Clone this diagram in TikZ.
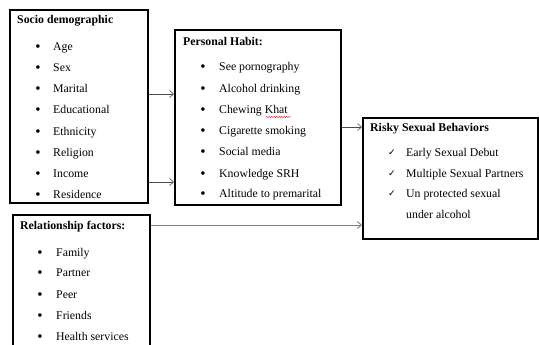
\documentclass[tikz,border=0pt]{standalone}
\usepackage{fontspec}
\setmainfont{Liberation Serif}
\newfontfamily\symfont{DejaVu Sans}
\usetikzlibrary{arrows.meta,decorations.pathmorphing}
\tikzset{
  box/.style={draw=black, line width=1.6pt, rectangle, inner sep=0pt, anchor=north west},
  lbl/.style={anchor=west, inner sep=0pt, font=\fontsize{11.8}{13}\selectfont, text height=8pt, text depth=2.5pt, yshift=-1pt},
  ttl/.style={lbl, font=\fontsize{11.8}{13}\selectfont\bfseries},
  bul/.style={anchor=center, inner sep=0pt, font=\fontsize{15}{16}\selectfont, yshift=-1pt},
  chk/.style={anchor=center, inner sep=0pt, font=\symfont\fontsize{9}{10}\selectfont},
  arr/.style={draw=black!70, line width=0.6pt, -{Straight Barb[length=4pt,width=7pt]}},
  garr/.style={draw=black!50, line width=0.9pt, -{Straight Barb[length=4pt,width=7pt]}}
}
\begin{document}
\begin{tikzpicture}[x=1pt,y=-1pt]
\useasboundingbox (0,0) rectangle (539,345);
\clip (0,0) rectangle (539,345);
% boxes
\node[box, minimum width=138pt, minimum height=193pt] (b1) at (9,9) {};
\node[box, minimum width=166pt, minimum height=175pt] (b2) at (174,29) {};
\node[box, minimum width=175pt, minimum height=121pt] (b3) at (362,117) {};
\node[box, minimum width=137pt, minimum height=150pt] (b4) at (12,214) {};
% box 1
\node[ttl] (t1) at (17,20) {Socio demographic};
\foreach \i/\t/\y in {1/Age/47,2/Sex/68,3/Marital/89,4/Educational/110,5/Ethnicity/132,6/Religion/153,7/Income/174,8/Residence/195}{
  \node[bul] (b1d\i) at (38,\y) {•};
  \node[lbl] (b1t\i) at (53,\y) {\t};
}
% box 2
\node[ttl] (t2) at (183,42) {Personal Habit:};
\foreach \i/\t/\y in {1/See pornography/67,2/Alcohol drinking/89,3/Chewing Khat/110,4/Cigarette smoking/131,5/Social media/152,6/Knowledge SRH/174,7/Altitude to premarital/194}{
  \node[bul] (b2d\i) at (203,\y) {•};
  \node[lbl] (b2t\i) at (219,\y) {\t};
}
\draw[red, line width=0.4pt, decorate, decoration={snake, amplitude=0.6pt, segment length=2.5pt}] (266,117) -- (291,117);
% box 3
\node[ttl] (t3) at (370,128) {Risky Sexual Behaviors};
\foreach \i/\t/\y in {1/Early Sexual Debut/153,2/Multiple Sexual Partners/174,3/Un protected sexual/194}{
  \node[chk] (b3c\i) at (392,\y) {✓};
  \node[lbl] (b3t\i) at (406,\y) {\t};
}
\node[lbl] (b3t4) at (406,215) {under alcohol};
% box 4
\node[ttl] (t4) at (20,226) {Relationship factors:};
\foreach \i/\t/\y in {1/Family/253,2/Partner/273,3/Peer/295,4/Friends/316,5/Health services/337}{
  \node[bul] (b4d\i) at (40,\y) {•};
  \node[lbl] (b4t\i) at (56,\y) {\t};
}
% connectors
\draw[arr] (b1.east |- 0,94) -- (b2.west |- 0,94);
\draw[arr] (b1.east |- 0,182) -- (b2.west |- 0,182);
\draw[arr] (b2.east |- 0,127) -- (b3.west |- 0,127);
\draw[garr] (b4.east |- 0,225) -- (b3.west |- 0,225);
\end{tikzpicture}
\end{document}
